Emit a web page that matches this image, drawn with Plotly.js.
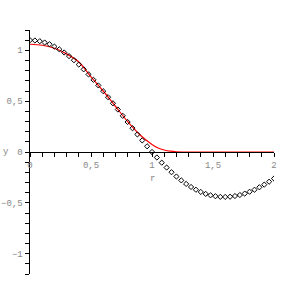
<!DOCTYPE html>
<html>
<head>
<meta charset="utf-8">
<script src="https://cdn.plot.ly/plotly-3.0.1.min.js"></script>
<style>html,body{margin:0;padding:0;background:#fff}#plot{width:305px;height:305px}</style>
</head>
<body>
<div id="plot"></div>
<script>
// Point series (black diamonds)
var pointsX = [0,0.04,0.08,0.12,0.16,0.20,0.24,0.28,0.32,0.36,0.40,0.44,0.48,0.52,0.56,0.60,0.64,0.68,0.72,0.76,0.80,0.84,0.88,0.92,0.96,1.00,
               1.04,1.08,1.12,1.16,1.20,1.24,1.28,1.32,1.36,1.40,1.44,1.48,1.52,1.56,1.60,1.64,1.68,1.72,1.76,1.80,1.84,1.88,1.92,1.96,2.00];
var pointsY = [1.100,1.097,1.090,1.077,1.060,1.037,1.010,0.979,0.943,0.903,0.860,0.813,0.763,0.710,0.655,0.598,0.539,0.479,0.418,0.356,0.295,0.234,0.173,0.114,0.056,0.000,
               -0.054,-0.105,-0.153,-0.199,-0.241,-0.279,-0.314,-0.344,-0.371,-0.393,-0.412,-0.426,-0.435,-0.441,-0.442,-0.440,-0.433,-0.423,-0.409,-0.391,-0.371,-0.347,-0.321,-0.292,-0.261];
// Red curve
var curveX = [0,0.1,0.2,0.3,0.4,0.5,0.6,0.7,0.8,0.9,1.0,1.05,1.1,1.15,1.2,1.25,1.3,1.5,2.0];
var curveY = [1.06,1.05,1.02,0.965,0.885,0.74,0.60,0.45,0.30,0.17,0.075,0.04,0.02,0.008,0.002,0,0,0,0];
var xTickVals = [0,0.5,1,1.5,2];
var yTickVals = [-1,-0.5,0,0.5,1];

var tickFont = {family:'Liberation Mono, DejaVu Sans Mono, monospace', size:9, color:'#888'};

var data = [
  {x:curveX, y:curveY, type:'scatter', mode:'lines', line:{color:'#ff0000', width:1.2, shape:'spline'}, hoverinfo:'none'},
  {x:pointsX, y:pointsY, type:'scatter', mode:'markers',
   marker:{symbol:'diamond-open', size:4, color:'#000', line:{color:'#000', width:1}}, hoverinfo:'none'}
];

var layout = {
  width:305, height:305,
  margin:{l:30, r:31, t:30, b:31, pad:0},
  paper_bgcolor:'#fff', plot_bgcolor:'#fff',
  showlegend:false,
  separators:',.',
  xaxis:{
    range:[0,2], anchor:'free', position:0.5,
    showgrid:false, zeroline:false, showline:true, linecolor:'#000', linewidth:1,
    tickmode:'array', tickvals:xTickVals, ticks:'outside', ticklen:4, tickcolor:'#000', tickwidth:1,
    minor:{dtick:0.1, ticks:'outside', ticklen:4, tickcolor:'#000', tickwidth:1, showgrid:false},
    tickfont:tickFont, fixedrange:true
  },
  yaxis:{
    range:[-1.2,1.2],
    showgrid:false, zeroline:false, showline:true, linecolor:'#000', linewidth:1.5,
    tickmode:'array', tickvals:yTickVals, ticks:'outside', ticklen:4, tickcolor:'#000', tickwidth:1,
    minor:{dtick:0.1, ticks:'outside', ticklen:4, tickcolor:'#000', tickwidth:1, showgrid:false},
    tickfont:tickFont, fixedrange:true
  },
  annotations:[
    {text:'y', xref:'paper', yref:'y', x:-0.1, y:0, xanchor:'center', yanchor:'middle', showarrow:false, font:tickFont},
    {text:'r', xref:'x', yref:'paper', x:1, y:0.39, xanchor:'center', yanchor:'middle', showarrow:false, font:tickFont}
  ]
};

Plotly.newPlot('plot', data, layout, {staticPlot:true, displayModeBar:false});
</script>
</body>
</html>
